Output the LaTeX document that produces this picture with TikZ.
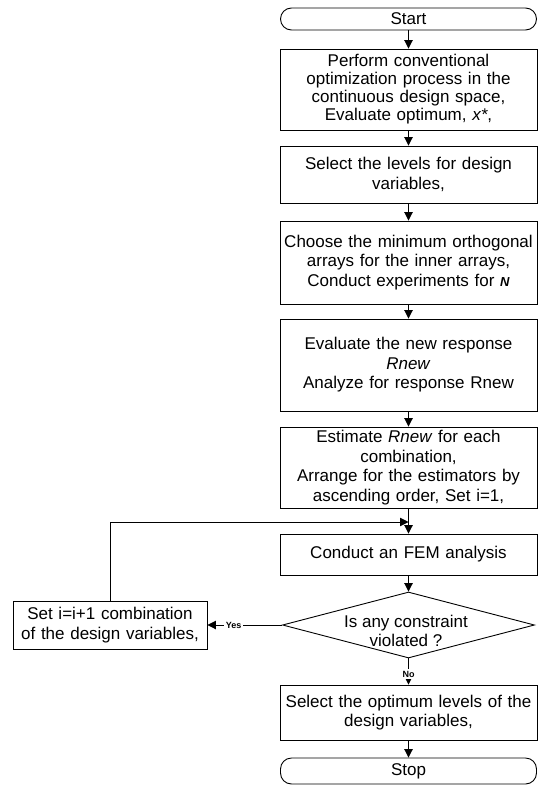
\documentclass[tikz,border=0pt]{standalone}
\usepackage{fontspec}
\setmainfont{Liberation Sans}
\usetikzlibrary{shapes.geometric,arrows.meta}
\begin{document}
\begin{tikzpicture}[x=1pt,y=-1pt,
  every node/.style={font=\fontsize{17}{19.5}\selectfont},
  proc/.style={draw, line width=0.9pt, minimum width=257pt, text width=255pt, align=center, inner sep=1pt},
  term/.style={draw, line width=0.9pt, rounded corners=11pt, minimum width=256pt, inner sep=0pt},
  arr/.style={line width=0.9pt, -{Triangle[width=8.5pt,length=8.5pt]}},
  lab/.style={font=\fontsize{9}{10}\selectfont\bfseries, fill=white, inner sep=1.5pt}]
\useasboundingbox (0,0) rectangle (539,787);
\node[term, minimum height=22pt] (start) at (408.5,19) {Start};
\node[proc, minimum height=81pt, font=\fontsize{17}{18}\selectfont] (b1) at (408.5,89.5) {Perform conventional\\optimization process in the\\continuous design space,\\Evaluate optimum, \textit{x*},};
\node[proc, minimum height=57pt] (b2) at (408.5,174.5) {Select the levels for design\\variables,};
\node[proc, minimum height=83pt] (b3) at (408.5,262.5) {Choose the minimum orthogonal\\arrays for the inner arrays,\\Conduct experiments for {\fontsize{13}{13}\selectfont\bfseries\itshape N}};
\node[proc, minimum height=92pt] (b4) at (408.5,365) {Evaluate the new response\\\textit{Rnew}\\Analyze for response Rnew};
\node[proc, minimum height=81pt] (b5) at (408.5,467.5) {Estimate \textit{Rnew} for each\\combination,\\Arrange for the estimators by\\ascending order, Set i=1,};
\node[proc, minimum height=41pt] (fem) at (408.5,554.5) {Conduct an FEM analysis};
\node[draw, diamond, line width=0.9pt, minimum width=252pt, minimum height=66pt, inner sep=0pt] (dec) at (408.5,625) {};
\node[align=center, inner sep=0pt] (dect) at (406,631) {Is any constraint\\violated ?};
\node[proc, minimum height=55pt] (b6) at (408.5,712.5) {Select the optimum levels of the\\design variables,};
\node[term, minimum height=26pt] (stop) at (408.5,771) {Stop};
\node[draw, line width=0.9pt, minimum width=194pt, minimum height=48pt, text width=190pt, align=center, inner sep=1pt] (set) at (110,625) {Set i=i+1 combination\\of the design variables,};
\coordinate (join) at (408.5,522);
\draw[arr] (start) -- (b1);
\draw[arr] (b1) -- (b2);
\draw[arr] (b2) -- (b3);
\draw[arr] (b3) -- (b4);
\draw[arr] (b4) -- (b5);
\draw[arr] (b5) -- (fem);
\draw[arr] (fem) -- (dec);
\draw[arr] (dec.west) -- node[lab, pos=0.65] {Yes} (set.east);
\draw[arr] (dec.south) -- node[lab, pos=0.6] {No} (b6.north);
\draw[arr] (b6) -- (stop);
\draw[arr] (set.north) |- (join);
\end{tikzpicture}
\end{document}
